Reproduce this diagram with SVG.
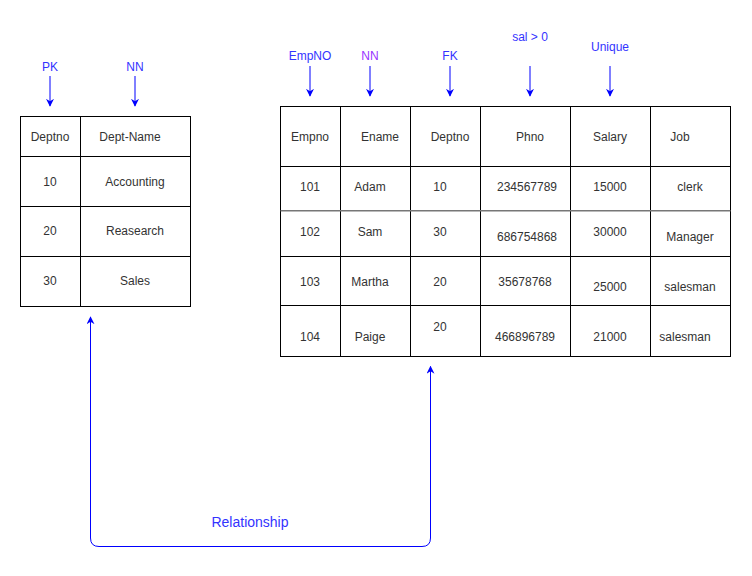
<svg xmlns="http://www.w3.org/2000/svg" width="752" height="576" viewBox="0 0 752 576">
<style>
.cell{fill:none;stroke:#000;stroke-width:1}
.t{font-family:"Liberation Sans",Arial,sans-serif;font-size:12px;fill:#333;text-anchor:middle;dominant-baseline:central}
.lbl{font-family:"Liberation Sans",Arial,sans-serif;font-size:12px;fill:#3333ff;text-anchor:middle;dominant-baseline:central}
.ln{fill:none;stroke:#0000ff;stroke-width:1}
</style>
<defs>
<marker id="ah" viewBox="0 0 10 10" refX="9" refY="5" markerWidth="8" markerHeight="8" markerUnits="userSpaceOnUse" orient="auto-start-reverse">
<path d="M0,0 L10,5 L0,10 L3,5 Z" fill="#0000ff"/>
</marker>
</defs>
<rect width="752" height="576" fill="#fff"/>
<g id="dept-table">
<rect class="cell" x="20.5" y="116.5" width="170" height="190"/>
<line class="cell" x1="80.5" y1="116.5" x2="80.5" y2="306.5"/>
<line class="cell" x1="20.5" y1="156.5" x2="190.5" y2="156.5"/>
<line class="cell" x1="20.5" y1="206.5" x2="190.5" y2="206.5"/>
<line class="cell" x1="20.5" y1="256.5" x2="190.5" y2="256.5"/>
<text class="t" x="50" y="137">Deptno</text>
<text class="t" x="130" y="137">Dept-Name</text>
<text class="t" x="50" y="182">10</text>
<text class="t" x="135" y="182">Accounting</text>
<text class="t" x="50" y="231">20</text>
<text class="t" x="135" y="231">Reasearch</text>
<text class="t" x="50" y="281">30</text>
<text class="t" x="135" y="281">Sales</text>
</g>
<g id="emp-table">
<rect class="cell" x="280.5" y="106.5" width="450" height="250"/>
<line class="cell" x1="340.5" y1="106.5" x2="340.5" y2="356.5"/>
<line class="cell" x1="410.5" y1="106.5" x2="410.5" y2="356.5"/>
<line class="cell" x1="480.5" y1="106.5" x2="480.5" y2="356.5"/>
<line class="cell" x1="570.5" y1="106.5" x2="570.5" y2="356.5"/>
<line class="cell" x1="650.5" y1="106.5" x2="650.5" y2="356.5"/>
<line class="cell" x1="280.5" y1="166.5" x2="730.5" y2="166.5"/>
<line x1="280.5" y1="210.8" x2="730.5" y2="210.8" stroke="#777" stroke-width="1.6"/>
<line class="cell" x1="280.5" y1="256.5" x2="730.5" y2="256.5"/>
<line class="cell" x1="280.5" y1="305.5" x2="730.5" y2="305.5"/>
<text class="t" x="310" y="137">Empno</text>
<text class="t" x="380" y="137">Ename</text>
<text class="t" x="450" y="137">Deptno</text>
<text class="t" x="530" y="137">Phno</text>
<text class="t" x="610" y="137">Salary</text>
<text class="t" x="680" y="137">Job</text>
<text class="t" x="310" y="187">101</text>
<text class="t" x="370" y="187">Adam</text>
<text class="t" x="440" y="187">10</text>
<text class="t" x="527" y="187">234567789</text>
<text class="t" x="610" y="187">15000</text>
<text class="t" x="690" y="187">clerk</text>
<text class="t" x="310" y="232">102</text>
<text class="t" x="370" y="232">Sam</text>
<text class="t" x="440" y="232">30</text>
<text class="t" x="527" y="237">686754868</text>
<text class="t" x="610" y="232">30000</text>
<text class="t" x="690" y="237">Manager</text>
<text class="t" x="310" y="282">103</text>
<text class="t" x="370" y="282">Martha</text>
<text class="t" x="440" y="282">20</text>
<text class="t" x="525" y="282">35678768</text>
<text class="t" x="610" y="287">25000</text>
<text class="t" x="690" y="287">salesman</text>
<text class="t" x="310" y="337">104</text>
<text class="t" x="370" y="337">Paige</text>
<text class="t" x="440" y="327">20</text>
<text class="t" x="525" y="337">466896789</text>
<text class="t" x="610" y="337">21000</text>
<text class="t" x="685" y="337">salesman</text>
</g>
<g id="labels">
<text class="lbl" x="50" y="67">PK</text>
<text class="lbl" x="135" y="67">NN</text>
<text class="lbl" x="310" y="56">EmpNO</text>
<text class="lbl" x="370" y="56" style="fill:#9933ff">NN</text>
<text class="lbl" x="450" y="56">FK</text>
<text class="lbl" x="530" y="37">sal &gt; 0</text>
<text class="lbl" x="610" y="47">Unique</text>
<text class="lbl" x="250" y="522" style="font-size:14px">Relationship</text>
</g>
<g id="connectors">
<line class="ln" x1="50" y1="76" x2="50" y2="106" marker-end="url(#ah)"/>
<line class="ln" x1="135" y1="76" x2="135" y2="106" marker-end="url(#ah)"/>
<line class="ln" x1="310" y1="66" x2="310" y2="96" marker-end="url(#ah)"/>
<line class="ln" x1="370" y1="66" x2="370" y2="96" marker-end="url(#ah)"/>
<line class="ln" x1="450" y1="66" x2="450" y2="96" marker-end="url(#ah)"/>
<line class="ln" x1="530" y1="66" x2="530" y2="96" marker-end="url(#ah)"/>
<line class="ln" x1="610" y1="66" x2="610" y2="96" marker-end="url(#ah)"/>
<path class="ln" d="M430.5,366.5 L430.5,538 Q430.5,546.5 422,546.5 L99,546.5 Q90.5,546.5 90.5,538 L90.5,317" marker-start="url(#ah)" marker-end="url(#ah)"/>
</g>
</svg>
